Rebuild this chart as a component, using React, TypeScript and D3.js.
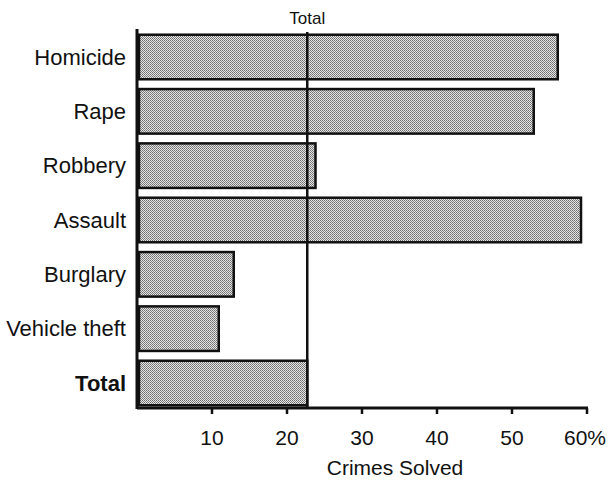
import React from "react";
import * as d3 from "d3";

const categories = ["Homicide", "Rape", "Robbery", "Assault", "Burglary", "Vehicle theft", "Total"];
const values = [56.1, 52.9, 23.8, 59.2, 12.9, 10.9, 22.7];
const tickValues = [10, 20, 30, 40, 50, 60];
const tickLabels = ["10", "20", "30", "40", "50", "60%"];
const totalValue = 22.7;
const xTitle = "Crimes Solved";
const refLabel = "Total";

export default function App() {
  const W = 609, H = 482;
  const x0 = 137, x1 = 587, yTop = 32, yBot = 408;
  const x = d3.scaleLinear().domain([0, 60]).range([x0, x1]);
  const y = d3.scaleBand().domain(categories).range([yTop, yBot]).paddingInner(0.18).paddingOuter(0.05);
  const font = "Liberation Sans, Arial, sans-serif";
  return (
    <svg width={W} height={H} style={{ position: "absolute", left: 0, top: 0, background: "#fff" }}>
      <defs>
        <pattern id="stip" width="2" height="2" patternUnits="userSpaceOnUse">
          <rect width="2" height="2" fill="#e6e6e6" />
          <rect x="0" y="0" width="1" height="1" fill="#6e6e6e" />
          <rect x="1" y="1" width="1" height="1" fill="#828282" />
        </pattern>
      </defs>
      {categories.map((c, i) => (
        <g key={c}>
          <rect x={x(0) + 2} y={y(c)!} width={x(values[i]) - x(0) - 2} height={y.bandwidth()}
            fill="url(#stip)" stroke="#111" strokeWidth={2.5} />
          <text x={126} y={y(c)! + y.bandwidth() / 2} dy="0.35em" textAnchor="end"
            fontFamily={font} fontSize={22} fontWeight={c === "Total" ? "bold" : "normal"} fill="#111">{c}</text>
        </g>
      ))}
      <line x1={x(totalValue)} x2={x(totalValue)} y1={yTop} y2={yBot} stroke="#111" strokeWidth={2.5} />
      <text x={x(totalValue)} y={24} textAnchor="middle" fontFamily={font} fontSize={17} fill="#111">{refLabel}</text>
      <line x1={x0} x2={x0} y1={yTop - 3} y2={yBot + 1} stroke="#111" strokeWidth={3} />
      <line x1={x0} x2={x1 + 1} y1={yBot} y2={yBot} stroke="#111" strokeWidth={3} />
      {tickValues.map((t, i) => (
        <g key={t}>
          <line x1={x(t)} x2={x(t)} y1={yBot} y2={yBot + 6} stroke="#111" strokeWidth={2.5} />
          <text x={x(t) + (i === tickValues.length - 1 ? -2 : 0)} y={445} textAnchor="middle"
            fontFamily={font} fontSize={21} fill="#111">{tickLabels[i]}</text>
        </g>
      ))}
      <text x={395} y={475} textAnchor="middle" fontFamily={font} fontSize={21} fill="#111">{xTitle}</text>
    </svg>
  );
}
